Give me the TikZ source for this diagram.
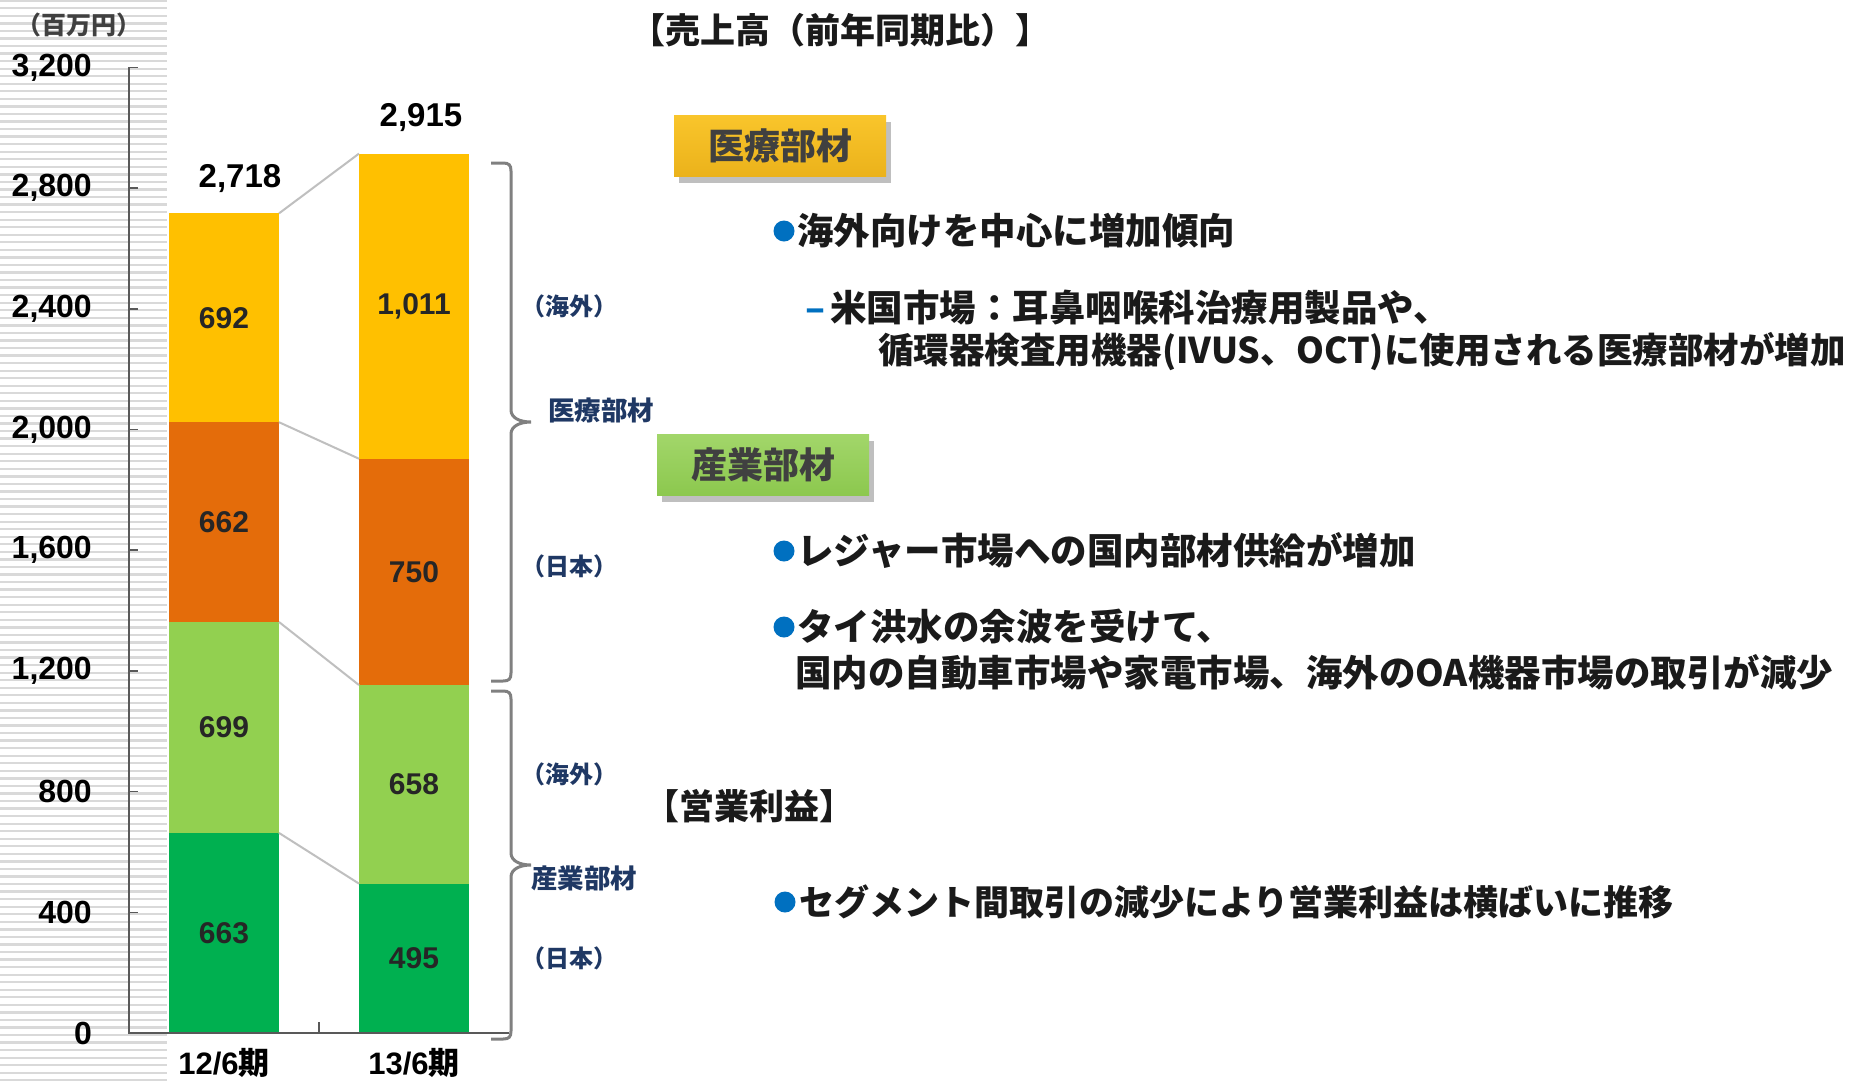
\documentclass[tikz,border=0pt]{standalone}
\usepackage{fontspec}
\setmainfont{Liberation Sans}
\newfontfamily\jp{Noto Sans CJK JP}
\usetikzlibrary{shadows}
\definecolor{stripec}{HTML}{D9D9D9}
\definecolor{cyel}{HTML}{FFC000}
\definecolor{corg}{HTML}{E46C0A}
\definecolor{clgr}{HTML}{92D050}
\definecolor{cdgr}{HTML}{00B050}
\definecolor{axisc}{HTML}{595959}
\definecolor{serc}{HTML}{BFBFBF}
\definecolor{bracec}{HTML}{808080}
\definecolor{navyc}{HTML}{1F3864}
\definecolor{bulc}{HTML}{0070C0}
\definecolor{segtxt}{HTML}{262626}
\definecolor{boxtxt}{HTML}{404040}
\definecolor{txtc}{HTML}{1A1A1A}
\definecolor{ytop}{HTML}{F9C52B}
\definecolor{ybot}{HTML}{EBB21B}
\definecolor{gtop}{HTML}{A2D66A}
\definecolor{gbot}{HTML}{8CC84E}
\newcommand{\fsz}[1]{\fontsize{#1}{#1}\selectfont}
\begin{document}
\begin{tikzpicture}[x=1pt,y=-1pt,
  seg/.style={minimum width=110pt, inner sep=0pt, outer sep=0pt, anchor=south, font=\bfseries\fsz{30}, text=segtxt},
  tot/.style={font=\bfseries\fsz{33}, text=black, inner sep=0pt},
  ylab/.style={font=\bfseries\fsz{32}, text=black, anchor=east, inner sep=0pt},
  catlab/.style={font=\bfseries\fsz{31}, text=black, inner sep=0pt},
  serline/.style={draw=serc, line width=2pt},
  axisline/.style={draw=axisc, line width=1.6pt},
  brc/.style={draw=bracec, line width=3pt},
  brlab/.style={font=\jp\bfseries\fsz{24}, text=navyc, inner sep=0pt},
  brlabbig/.style={font=\jp\bfseries\fsz{26.5}, text=navyc, inner sep=0pt},
  headbox/.style={minimum width=212pt, minimum height=61pt, inner sep=0pt, font=\jp\bfseries\fsz{36}, text=boxtxt,
    drop shadow={shadow xshift=5pt, shadow yshift=-6pt, fill=black, opacity=0.25}},
  bul/.style={circle, fill=bulc, minimum size=21pt, inner sep=0pt},
  body/.style={font=\jp\bfseries\fsz{36.5}, text=txtc, anchor=west, inner sep=0pt},
  heading/.style={font=\jp\bfseries\fsz{35}, text=txtc, anchor=west, inner sep=0pt}
]
\useasboundingbox (0,0) rectangle (1868,1080);
\fill[white] (0,0) rectangle (1868,1080);
% background stripes
\foreach \i in {0,...,143} {
  \fill[stripec] (0,{-0.45+\i*7.55}) rectangle (167,{1.85+\i*7.55});
}
% unit label
\node[font=\jp\bfseries\fsz{25}, text=boxtxt, inner sep=0pt] (unit) at (79,25) {（百万円）};
% y labels
\foreach \v/\t in {0/0,400/400,800/800,1200/{1,200},1600/{1,600},2000/{2,000},2400/{2,400},2800/{2,800},3200/{3,200}} {
  \node[ylab] (yl\v) at (92,{1033-\v*0.30178}) {\t};
}
% bars
\node[seg, fill=cdgr, minimum height=200.08pt] (a1) at (224,1033) {663};
\node[seg, fill=clgr, minimum height=210.94pt] (a2) at (a1.north) {699};
\node[seg, fill=corg, minimum height=199.78pt] (a3) at (a2.north) {662};
\node[seg, fill=cyel, minimum height=208.83pt] (a4) at (a3.north) {692};
\node[seg, fill=cdgr, minimum height=149.38pt] (b1) at (414,1033) {495};
\node[seg, fill=clgr, minimum height=198.57pt] (b2) at (b1.north) {658};
\node[seg, fill=corg, minimum height=226.34pt] (b3) at (b2.north) {750};
\node[seg, fill=cyel, minimum height=305.10pt] (b4) at (b3.north) {1,011};
% series lines
\draw[serline] (a1.north east) -- (b1.north west);
\draw[serline] (a2.north east) -- (b2.north west);
\draw[serline] (a3.north east) -- (b3.north west);
\draw[serline] (a4.north east) -- (b4.north west);
% totals
\node[tot] (tot1) at (240,179) {2,718};
\node[tot] (tot2) at (421,118) {2,915};
% axes
\coordinate (ytopc) at (129,67.3);
\coordinate (orig) at (129,1033);
\coordinate (xend) at (509,1033);
\coordinate (xmid) at (319,1033);
\draw[axisline] (ytopc) -- (orig) -- (xend);
\foreach \v in {400,800,...,3200} {
  \draw[axisline] (129,{1033-\v*0.30178}) -- (138,{1033-\v*0.30178});
}
\draw[axisline] (xmid) -- (319,1022);
% category labels
\node[catlab] (c1) at (224,1063) {12/6{\jp 期}};
\node[catlab] (c2) at (414,1063) {13/6{\jp 期}};
% braces
\draw[brc] (491,163) -- (503,163) .. controls (509,163) and (511,165) .. (511,171) -- (511,410)
  .. controls (511,418) and (520,422) .. (531,422) .. controls (520,422) and (511,426) .. (511,434)
  -- (511,673) .. controls (511,679) and (509,681) .. (503,681) -- (491,681);
\draw[brc] (491,691) -- (503,691) .. controls (509,691) and (511,693) .. (511,699) -- (511,853)
  .. controls (511,861) and (520,865) .. (531,865) .. controls (520,865) and (511,869) .. (511,877)
  -- (511,1031) .. controls (511,1037) and (509,1039) .. (503,1039) -- (491,1039);
% brace labels
\node[brlab] (m1) at (569,306) {（海外）};
\node[brlabbig] (m2) at (601,410) {医療部材};
\node[brlab] (m3) at (569,566) {（日本）};
\node[brlab] (i1) at (569,774) {（海外）};
\node[brlabbig] (i2) at (584,878) {産業部材};
\node[brlab] (i3) at (569,958) {（日本）};
% title
\node[heading] (title) at (630,30) {【売上高（前年同期比）】};
% medical box
\node[headbox, top color=ytop, bottom color=ybot] (mbox) at (780,146) {医療部材};
\node[bul] (d1) at (784,231) {};
\node[body] (t1) at (797,231) {海外向けを中心に増加傾向};
\node[body] (t2) at (805,308) {\textcolor{bulc}{–}\hspace{5pt}米国市場：耳鼻咽喉科治療用製品や、};
\node[body, font=\jp\bfseries\fsz{35.5}] (t3) at (878,352) {循環器検査用機器(IVUS、OCT)に使用される医療部材が増加};
% industrial box
\node[headbox, top color=gtop, bottom color=gbot] (ibox) at (763,465) {産業部材};
\node[bul] (d2) at (784,551) {};
\node[body] (t4) at (797,551) {レジャー市場への国内部材供給が増加};
\node[bul] (d3) at (784,627) {};
\node[body] (t5) at (797,627) {タイ洪水の余波を受けて、};
\node[body] (t6) at (795,672) {国内の自動車市場や家電市場、海外のOA機器市場の取引が減少};
% operating profit
\node[heading] (op) at (644,806) {【営業利益】};
\node[bul] (d4) at (785,902) {};
\node[body, font=\jp\bfseries\fsz{35}] (t7) at (799,902) {セグメント間取引の減少により営業利益は横ばいに推移};
\end{tikzpicture}
\end{document}
